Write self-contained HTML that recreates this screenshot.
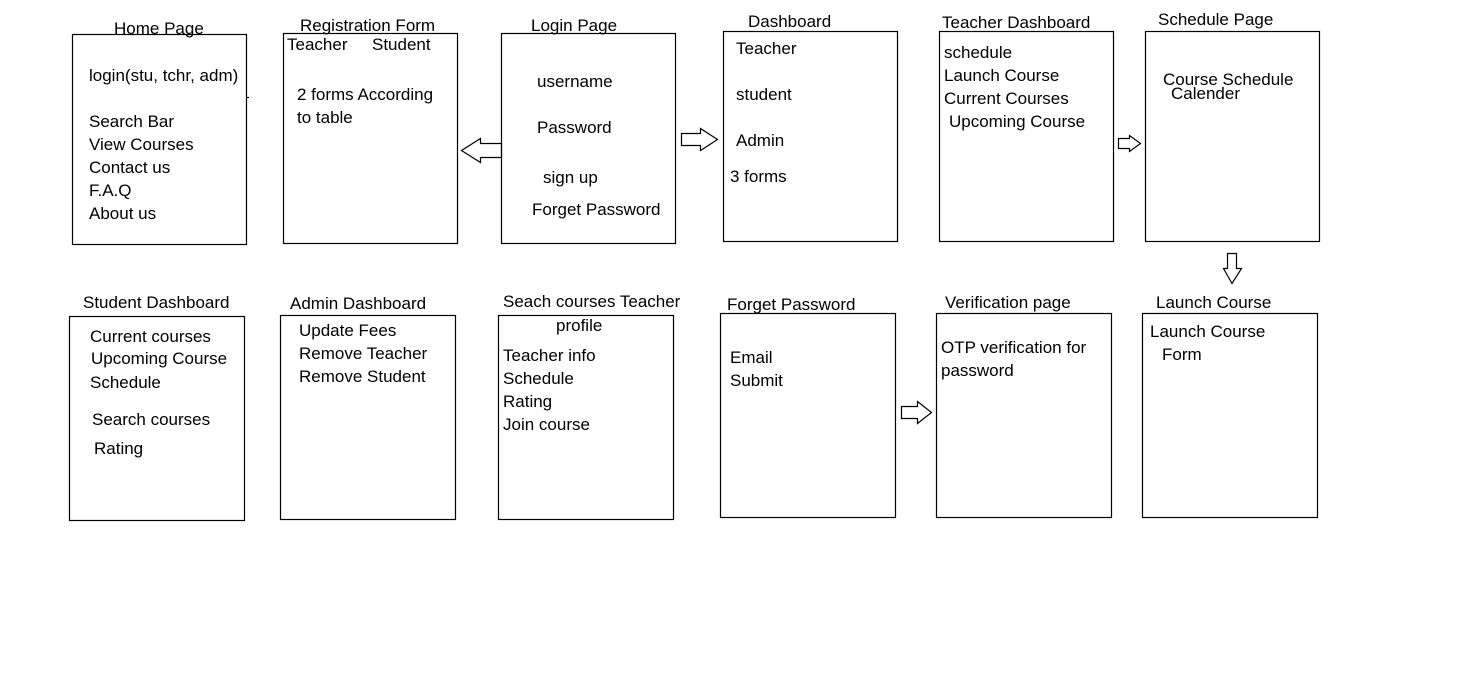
<!DOCTYPE html>
<html><head><meta charset="utf-8"><style>
html,body{margin:0;padding:0;background:#fff;}
svg{display:block;}
text{font-family:"Liberation Sans",sans-serif;font-size:17px;fill:#000;}
</style></head><body>
<svg width="1472" height="680" viewBox="0 0 1472 680">
<g fill="none" stroke="#000" stroke-width="1.2">
<rect x="72.5" y="34.5" width="174" height="210"/>
<rect x="283.5" y="33.5" width="174" height="210"/>
<rect x="501.5" y="33.5" width="174" height="210"/>
<rect x="723.5" y="31.5" width="174" height="210"/>
<rect x="939.5" y="31.5" width="174" height="210"/>
<rect x="1145.5" y="31.5" width="174" height="210"/>
<rect x="69.5" y="316.5" width="175" height="204"/>
<rect x="280.5" y="315.5" width="175" height="204"/>
<rect x="498.5" y="315.5" width="175" height="204"/>
<rect x="720.5" y="313.5" width="175" height="204"/>
<rect x="936.5" y="313.5" width="175" height="204"/>
<rect x="1142.5" y="313.5" width="175" height="204"/>
<line x1="246" y1="97.5" x2="249" y2="97.5"/>
<polygon points="501.5,143.5 480.5,143.5 480.5,138.5 461.5,150.5 480.5,162.5 480.5,157.5 501.5,157.5"/>
<polygon points="681.5,133.5 700.5,133.5 700.5,128.5 717.5,139.5 700.5,150.5 700.5,145.5 681.5,145.5"/>
<polygon points="1118.5,138.5 1129.5,138.5 1129.5,135.5 1140.5,143.5 1129.5,151.5 1129.5,148.5 1118.5,148.5"/>
<polygon points="1227.5,253.5 1236.5,253.5 1236.5,268.5 1241.5,268.5 1232,283.5 1223.5,268.5 1227.5,268.5"/>
<polygon points="901.5,406.5 917.5,406.5 917.5,401.5 931.5,412.5 917.5,423.5 917.5,418.5 901.5,418.5"/>
</g>
<g transform="translate(0,1)">
<text x="114" y="33">Home Page</text>
<text x="89" y="80">login(stu, tchr, adm)</text>
<text x="89" y="126">Search Bar</text>
<text x="89" y="149">View Courses</text>
<text x="89" y="172">Contact us</text>
<text x="89" y="195">F.A.Q</text>
<text x="89" y="218">About us</text>

<text x="300" y="30">Registration Form</text>
<text x="287" y="49">Teacher</text>
<text x="372" y="49">Student</text>
<text x="297" y="99">2 forms According</text>
<text x="297" y="122">to table</text>

<text x="531" y="30">Login Page</text>
<text x="537" y="86">username</text>
<text x="537" y="132">Password</text>
<text x="543" y="182">sign up</text>
<text x="532" y="214">Forget Password</text>

<text x="748" y="26">Dashboard</text>
<text x="736" y="53">Teacher</text>
<text x="736" y="99">student</text>
<text x="736" y="145">Admin</text>
<text x="730" y="181">3 forms</text>

<text x="942" y="27">Teacher Dashboard</text>
<text x="944" y="57">schedule</text>
<text x="944" y="80">Launch Course</text>
<text x="944" y="103">Current Courses</text>
<text x="949" y="126">Upcoming Course</text>

<text x="1158" y="24">Schedule Page</text>
<text x="1163" y="84">Course Schedule</text>
<text x="1171" y="98">Calender</text>

<text x="83" y="307">Student Dashboard</text>
<text x="90" y="341">Current courses</text>
<text x="91" y="363">Upcoming Course</text>
<text x="90" y="387">Schedule</text>
<text x="92" y="424">Search courses</text>
<text x="94" y="453">Rating</text>

<text x="290" y="308">Admin Dashboard</text>
<text x="299" y="335">Update Fees</text>
<text x="299" y="358">Remove Teacher</text>
<text x="299" y="381">Remove Student</text>

<text x="503" y="306">Seach courses Teacher</text>
<text x="556" y="330">profile</text>
<text x="503" y="360">Teacher info</text>
<text x="503" y="383">Schedule</text>
<text x="503" y="406">Rating</text>
<text x="503" y="429">Join course</text>

<text x="727" y="309">Forget Password</text>
<text x="730" y="362">Email</text>
<text x="730" y="385">Submit</text>

<text x="945" y="307">Verification page</text>
<text x="941" y="352">OTP verification for</text>
<text x="941" y="375">password</text>

<text x="1156" y="307">Launch Course</text>
<text x="1150" y="336">Launch Course</text>
<text x="1162" y="359">Form</text>
</g>
</svg>
</body></html>
